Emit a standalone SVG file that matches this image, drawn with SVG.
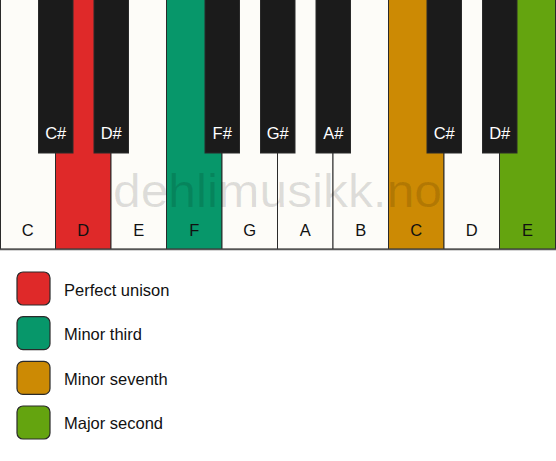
<svg xmlns="http://www.w3.org/2000/svg" width="556" height="461" viewBox="0 0 556 461">
<style>
.w{stroke:#2a2a2a;stroke-width:1}
.b{fill:#1b1b1b;stroke:#2a2a2a;stroke-width:1}
.lw{font-family:"Liberation Sans",Arial,sans-serif;font-size:16.5px;fill:#111;text-anchor:middle}
.lb{font-family:"Liberation Sans",Arial,sans-serif;font-size:16.5px;fill:#fff;text-anchor:middle}
.lg{font-family:"Liberation Sans",Arial,sans-serif;font-size:16.5px;fill:#111}
.sq{stroke:#2a2a2a;stroke-width:1.2}
.wm{font-family:"Liberation Sans",Arial,sans-serif;font-size:46px;fill:#000;fill-opacity:0.12}
</style>
<rect width="556" height="461" fill="#ffffff"/>
<g id="white-keys">
<g id="key-C1"><rect class="w" x="0.5" y="-1" width="55" height="250" fill="#fdfcf8"/><text class="lw" x="27.75" y="236">C</text></g>
<g id="key-D1"><rect class="w" x="55.5" y="-1" width="55.5" height="250" fill="#df2929"/><text class="lw" x="83.25" y="236">D</text></g>
<g id="key-E1"><rect class="w" x="111" y="-1" width="55.5" height="250" fill="#fdfcf8"/><text class="lw" x="138.75" y="236">E</text></g>
<g id="key-F1"><rect class="w" x="166.5" y="-1" width="55.5" height="250" fill="#07976a"/><text class="lw" x="194.25" y="236">F</text></g>
<g id="key-G1"><rect class="w" x="222" y="-1" width="55.5" height="250" fill="#fdfcf8"/><text class="lw" x="249.75" y="236">G</text></g>
<g id="key-A1"><rect class="w" x="277.5" y="-1" width="55.5" height="250" fill="#fdfcf8"/><text class="lw" x="305.25" y="236">A</text></g>
<g id="key-B1"><rect class="w" x="333" y="-1" width="55.5" height="250" fill="#fdfcf8"/><text class="lw" x="360.75" y="236">B</text></g>
<g id="key-C2"><rect class="w" x="388.5" y="-1" width="55.5" height="250" fill="#cc8a04"/><text class="lw" x="416.25" y="236">C</text></g>
<g id="key-D2"><rect class="w" x="444" y="-1" width="55.5" height="250" fill="#fdfcf8"/><text class="lw" x="471.75" y="236">D</text></g>
<g id="key-E2"><rect class="w" x="499.5" y="-1" width="56" height="250" fill="#64a40f"/><text class="lw" x="527.5" y="236">E</text></g>
</g>
<line x1="0" y1="249.5" x2="556" y2="249.5" stroke="#555" stroke-width="1.5"/>
<text class="wm" x="113" y="207" textLength="329" lengthAdjust="spacingAndGlyphs">dehlimusikk.no</text>
<g id="black-keys">
<g id="key-Cs1"><rect class="b" x="38.5" y="-1" width="34.5" height="154"/><text class="lb" x="55.75" y="139">C#</text></g>
<g id="key-Ds1"><rect class="b" x="94" y="-1" width="34.5" height="154"/><text class="lb" x="111.25" y="139">D#</text></g>
<g id="key-Fs1"><rect class="b" x="205" y="-1" width="34.5" height="154"/><text class="lb" x="222.25" y="139">F#</text></g>
<g id="key-Gs1"><rect class="b" x="260.5" y="-1" width="34.5" height="154"/><text class="lb" x="277.75" y="139">G#</text></g>
<g id="key-As1"><rect class="b" x="316" y="-1" width="34.5" height="154"/><text class="lb" x="333.25" y="139">A#</text></g>
<g id="key-Cs2"><rect class="b" x="427" y="-1" width="34.5" height="154"/><text class="lb" x="444.25" y="139">C#</text></g>
<g id="key-Ds2"><rect class="b" x="482.5" y="-1" width="34.5" height="154"/><text class="lb" x="499.75" y="139">D#</text></g>
</g>
<g id="legend">
<g id="legend-unison"><rect class="sq" x="17" y="272" width="33" height="33" rx="6" fill="#df2929"/><text class="lg" x="64" y="295.5">Perfect unison</text></g>
<g id="legend-minor-third"><rect class="sq" x="17" y="316.7" width="33" height="33" rx="6" fill="#07976a"/><text class="lg" x="64" y="340">Minor third</text></g>
<g id="legend-minor-seventh"><rect class="sq" x="17" y="361.4" width="33" height="33" rx="6" fill="#cc8a04"/><text class="lg" x="64" y="384.8">Minor seventh</text></g>
<g id="legend-major-second"><rect class="sq" x="17" y="406" width="33" height="33" rx="6" fill="#64a40f"/><text class="lg" x="64" y="429.4">Major second</text></g>
</g>
</svg>
